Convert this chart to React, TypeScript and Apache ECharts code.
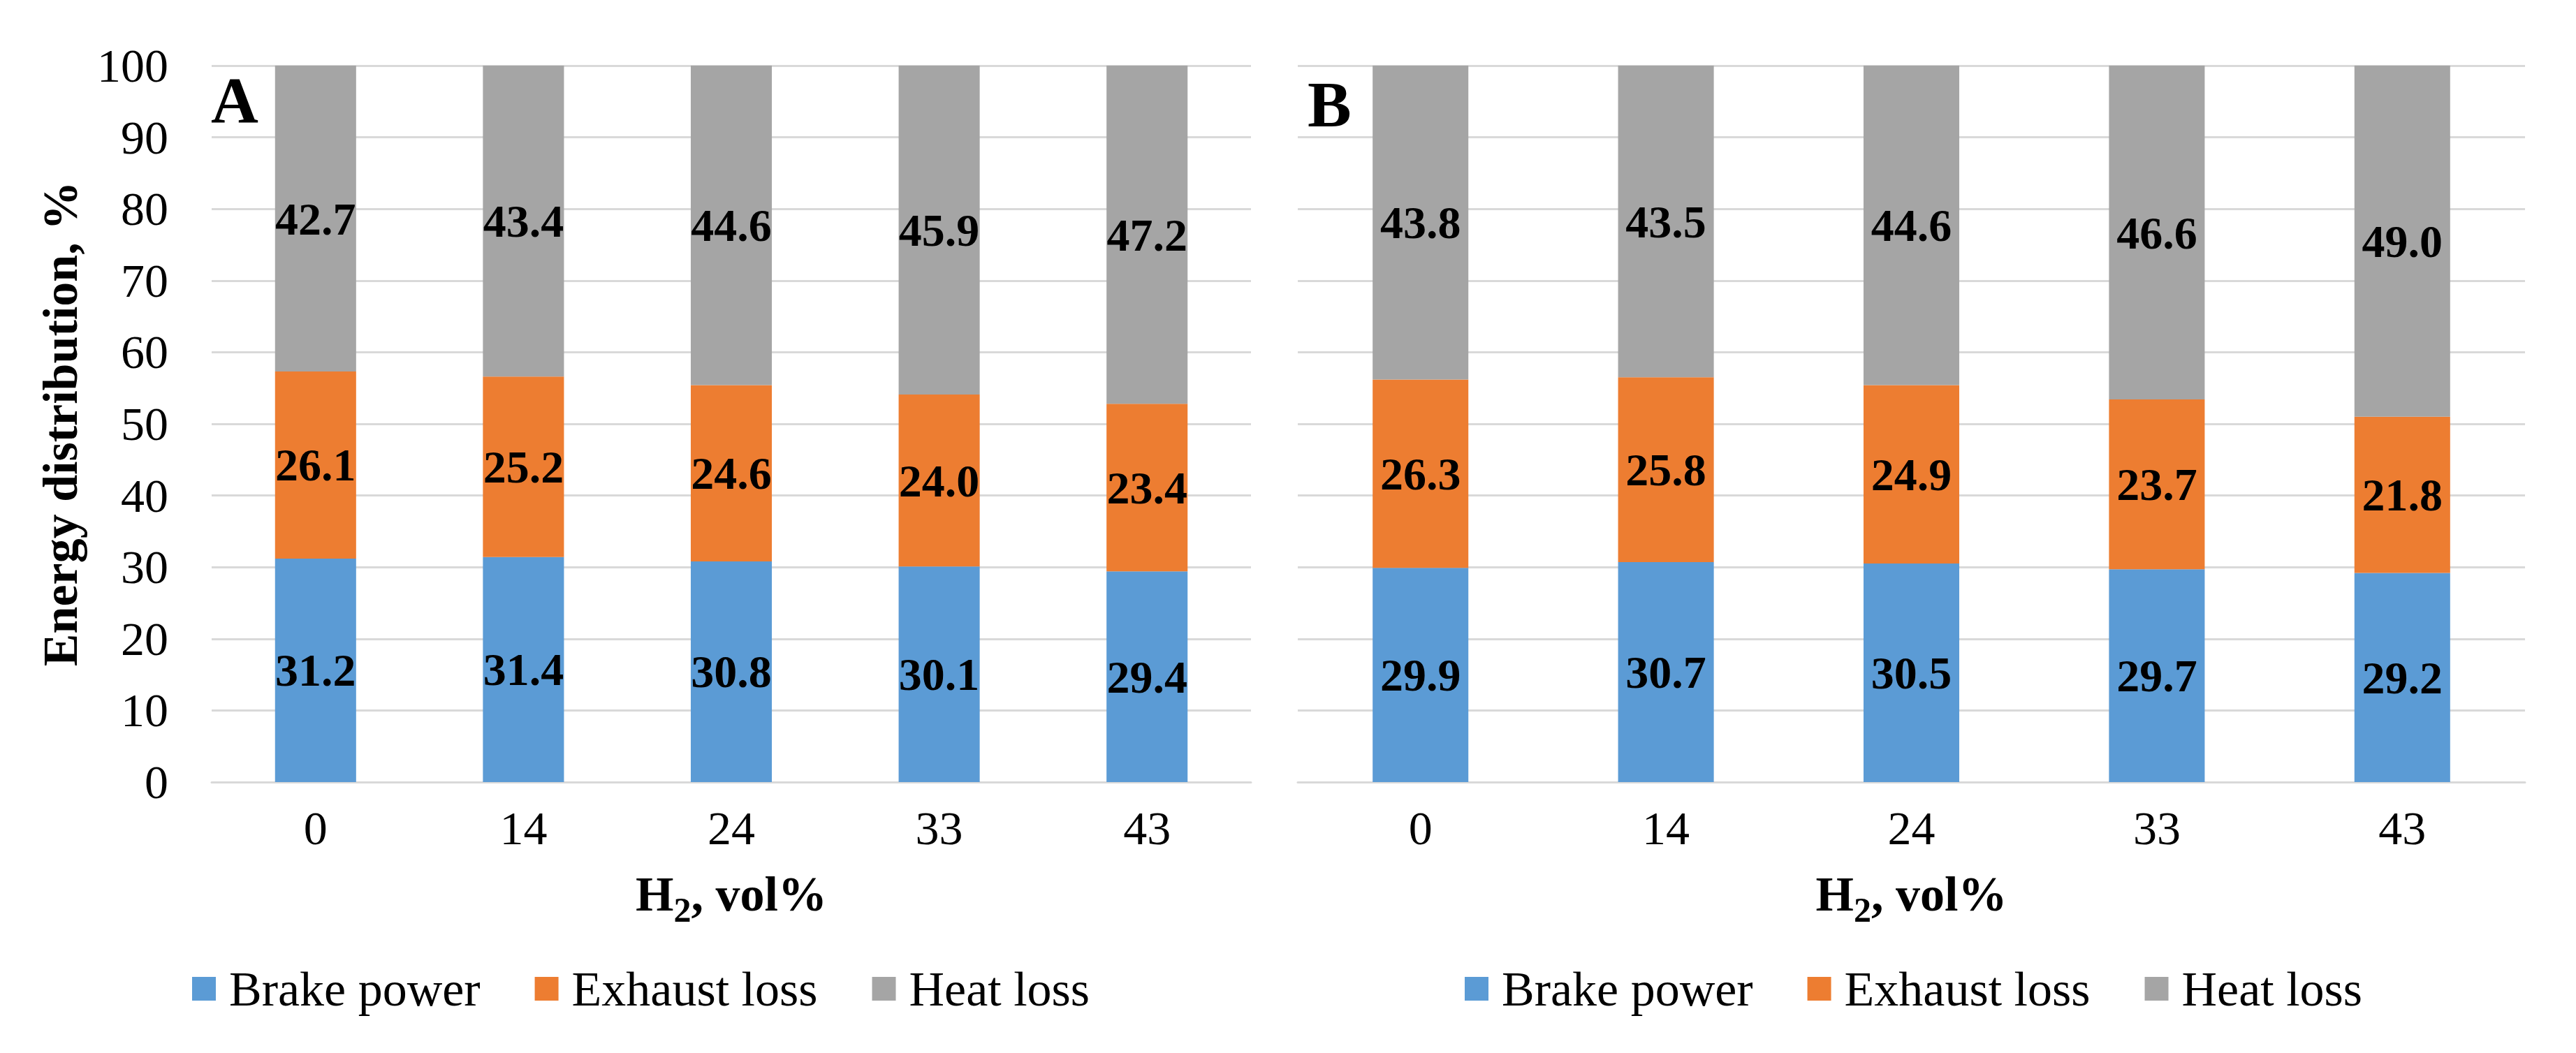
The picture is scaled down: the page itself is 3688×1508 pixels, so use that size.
import React, { useEffect, useRef } from 'react';
import * as echarts from 'echarts';

const categories = ['0', '14', '24', '33', '43'];
const seriesNames = ['Brake power', 'Exhaust loss', 'Heat loss'];
const colors = ['#5B9BD5', '#ED7D31', '#A5A5A5'];

// panel A
const brakeA = [31.2, 31.4, 30.8, 30.1, 29.4];
const exhaustA = [26.1, 25.2, 24.6, 24.0, 23.4];
const heatA = [42.7, 43.4, 44.6, 45.9, 47.2];

// panel B
const brakeB = [29.9, 30.7, 30.5, 29.7, 29.2];
const exhaustB = [26.3, 25.8, 24.9, 23.7, 21.8];
const heatB = [43.8, 43.5, 44.6, 46.6, 49.0];

const yTicks = [0, 10, 20, 30, 40, 50, 60, 70, 80, 90, 100];

const FONT = "'Liberation Serif', 'Times New Roman', serif";

export default function App() {
  const chartRef = useRef<HTMLDivElement>(null);

  useEffect(() => {
    if (!chartRef.current) return;
    document.body.style.margin = '0';
    const chart = echarts.init(chartRef.current, null, { renderer: 'svg' });

    const xAxisBase = (gridIndex: number) => ({
      type: 'category',
      gridIndex,
      data: categories,
      axisLine: { lineStyle: { color: '#D9D9D9', width: 3 } },
      axisTick: { show: false },
      axisLabel: { color: '#000', fontFamily: FONT, fontSize: 68, margin: 32 },
      name: '{b|H}{s|2}{b|, vol%}',
      nameLocation: 'middle',
      nameGap: 125,
      nameTextStyle: {
        rich: {
          b: { fontFamily: FONT, fontSize: 70, fontWeight: 'bold', color: '#000', lineHeight: 70, verticalAlign: 'top' },
          s: { fontFamily: FONT, fontSize: 50, fontWeight: 'bold', color: '#000', lineHeight: 83, verticalAlign: 'bottom' },
        },
      },
    });

    const yAxisBase = (gridIndex: number, showLabel: boolean) => ({
      type: 'value',
      gridIndex,
      min: yTicks[0],
      max: yTicks[yTicks.length - 1],
      interval: 10,
      axisLine: { show: false },
      axisTick: { show: false },
      splitLine: { lineStyle: { color: '#D9D9D9', width: 3 } },
      axisLabel: { show: showLabel, color: '#000', fontFamily: FONT, fontSize: 68, margin: 62 },
      name: showLabel ? 'Energy distribution, %' : '',
      nameLocation: 'middle',
      nameGap: 182,
      nameTextStyle: { fontFamily: FONT, fontSize: 70, fontWeight: 'bold', color: '#000' },
    });

    const makeSeries = (data: number[], idx: number, axisIndex: number) => ({
      name: seriesNames[idx],
      type: 'bar',
      stack: 'total' + axisIndex,
      xAxisIndex: axisIndex,
      yAxisIndex: axisIndex,
      data,
      barWidth: '39%',
      itemStyle: { color: colors[idx] },
      label: {
        show: true,
        position: 'inside',
        color: '#000',
        fontFamily: FONT,
        fontSize: 66,
        fontWeight: 'bold',
        formatter: (p: any) => Number(p.value).toFixed(1),
      },
    });

    const legendBase = (left: number) => ({
      left,
      top: 1381,
      padding: 0,
      itemWidth: 34,
      itemHeight: 34,
      itemGap: 78,
      icon: 'rect',
      data: seriesNames,
      textStyle: { fontFamily: FONT, fontSize: 70, color: '#000', padding: [0, 0, 0, 14] },
    });

    const option = {
      animation: false,
      backgroundColor: '#fff',
      grid: [
        { left: 303, right: 1897, top: 94, bottom: 388 },
        { left: 1858, right: 73, top: 94, bottom: 388 },
      ],
      xAxis: [xAxisBase(0), xAxisBase(1)],
      yAxis: [yAxisBase(0, true), yAxisBase(1, false)],
      legend: [legendBase(275), legendBase(2097)],
      graphic: [
        { type: 'text', left: 302, top: 96, style: { text: 'A', fontFamily: FONT, fontSize: 94, fontWeight: 'bold', fill: '#000' } },
        { type: 'text', left: 1872, top: 102, style: { text: 'B', fontFamily: FONT, fontSize: 94, fontWeight: 'bold', fill: '#000' } },
      ],
      series: [
        makeSeries(brakeA, 0, 0),
        makeSeries(exhaustA, 1, 0),
        makeSeries(heatA, 2, 0),
        makeSeries(brakeB, 0, 1),
        makeSeries(exhaustB, 1, 1),
        makeSeries(heatB, 2, 1),
      ],
    };

    chart.setOption(option);

    const handleResize = () => chart.resize();
    window.addEventListener('resize', handleResize);
    return () => {
      window.removeEventListener('resize', handleResize);
      chart.dispose();
    };
  }, []);

  return <div ref={chartRef} style={{ width: '3688px', height: '1508px' }} />;
}
